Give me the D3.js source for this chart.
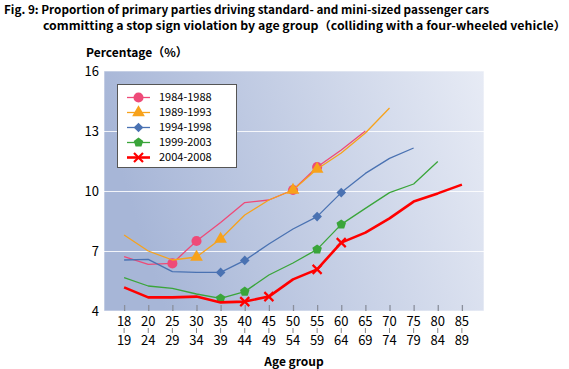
<!DOCTYPE html>
<html><head><meta charset="utf-8">
<script src="https://cdn.jsdelivr.net/npm/d3@7"></script>
<style>
html,body{margin:0;padding:0;background:#fff;}
svg{display:block;}
text{font-family:"Noto Sans CJK JP","Noto Sans",sans-serif;fill:#000;}
</style></head>
<body>
<svg id="chart" width="569" height="369"></svg>
<script>
const ageTop = ["18","20","25","30","35","40","45","50","55","60","65","70","75","80","85"];
const ageBottom = ["19","24","29","34","39","44","49","54","59","64","69","74","79","84","89"];
const categories = ageTop.map((t,i)=>t+"-"+ageBottom[i]);
const yTicks = [4,7,10,13,16];
const seriesNames = ["1984-1988","1989-1993","1994-1998","1999-2003","2004-2008"];
const s1984 = [6.72, 6.33, 6.38, 7.5, 8.42, 9.42, 9.55, 10.05, 11.2, 12.05, 13.0];
const s1989 = [7.8, 7.0, 6.55, 6.7, 7.6, 8.8, 9.55, 10.05, 11.1, 11.9, 12.9, 14.15];
const s1994 = [6.55, 6.58, 5.97, 5.93, 5.93, 6.53, 7.35, 8.1, 8.72, 9.92, 10.88, 11.63, 12.15];
const s1999 = [5.67, 5.25, 5.13, 4.85, 4.63, 4.97, 5.8, 6.4, 7.08, 8.33, 9.13, 9.92, 10.35, 11.47];
const s2004 = [5.18, 4.68, 4.68, 4.72, 4.43, 4.47, 4.72, 5.58, 6.08, 7.42, 7.92, 8.63, 9.47, 9.88, 10.32];
// age groups that carry a marker, per series
const mark1984 = ["25-29","30-34","50-54","55-59"];
const mark1989 = ["30-34","35-39","50-54","55-59"];
const mark1994 = ["35-39","40-44","55-59","60-64"];
const mark1999 = ["35-39","40-44","55-59","60-64"];
const mark2004 = ["40-44","45-49","55-59","60-64"];

const styles = [
  {color:"#ee4a78", width:1.3, symbol:d3.symbolCircle, size:80},
  {color:"#f7a21b", width:1.3, symbol:d3.symbolTriangle, size:70},
  {color:"#4a72b2", width:1.3, symbol:"diamond", size:4.8},
  {color:"#3aa53a", width:1.3, symbol:"pentagon", size:5},
  {color:"#ff0000", width:2.6, symbol:"x", size:5}
];
const seriesData = [s1984,s1989,s1994,s1999,s2004];
const markData = [mark1984,mark1989,mark1994,mark1999,mark2004];

const svg = d3.select("#chart");
const plot = {left:104, top:71, right:484, bottom:311};

const x = d3.scalePoint().domain(categories).range([plot.left-1, plot.right-1]).padding(0.875);
const y = d3.scaleLinear().domain([4,16]).range([plot.bottom, plot.top]);

// gradient background
const defs = svg.append("defs");
const grad = defs.append("linearGradient").attr("id","bg").attr("x1","0").attr("y1","0.2").attr("x2","1").attr("y2","0");
grad.append("stop").attr("offset","0").attr("stop-color","rgb(167,182,215)");
grad.append("stop").attr("offset","1").attr("stop-color","rgb(231,235,245)");

svg.append("rect").attr("x",plot.left).attr("y",plot.top)
  .attr("width",plot.right-plot.left).attr("height",plot.bottom-plot.top)
  .attr("fill","url(#bg)").attr("stroke","rgba(255,255,255,0.6)").attr("stroke-width",1);

// gridlines
svg.append("g").selectAll("line").data(yTicks.filter(v=>v>4 && v<16)).join("line")
  .attr("x1",plot.left).attr("x2",plot.right)
  .attr("y1",d=>Math.round(y(d))+0.5).attr("y2",d=>Math.round(y(d))+0.5)
  .attr("stroke","rgba(255,255,255,0.85)").attr("stroke-width",1);

// y axis labels
const yAxis = d3.axisLeft(y).tickValues(yTicks).tickSize(0).tickPadding(5).tickFormat(d3.format("d"));
const gy = svg.append("g").attr("transform",`translate(${plot.left},0)`).call(yAxis);
gy.select(".domain").remove();
gy.selectAll("text").attr("font-size","13px").attr("font-family",'"Noto Sans CJK JP",sans-serif').attr("fill","#000");

// x ticks inside bottom
const xAxis = d3.axisBottom(x).tickSizeInner(-6).tickSizeOuter(0).tickFormat("");
const gx = svg.append("g").attr("transform",`translate(0,${plot.bottom})`).call(xAxis);
gx.select(".domain").remove();
gx.selectAll(".tick line").attr("stroke","#8a8f9c").attr("stroke-width",1.3);

// x labels two rows with separator
const xl = svg.append("g");
categories.forEach((c,i)=>{
  const px = x(c);
  xl.append("text").attr("x",px).attr("y",326).attr("text-anchor","middle").attr("font-size","13px").text(ageTop[i]);
  xl.append("line").attr("x1",px).attr("x2",px).attr("y1",328).attr("y2",333).attr("stroke","#888").attr("stroke-width",1);
  xl.append("text").attr("x",px).attr("y",345).attr("text-anchor","middle").attr("font-size","13px").text(ageBottom[i]);
});

// lines
const line = d3.line().x((d,i)=>x(categories[i])).y(d=>y(d));
function drawMarker(g, st, cx, cy){
  if (st.symbol==="pentagon"){
    const r = st.size;
    const pts = d3.range(5).map(k=>{const a=-Math.PI/2+k*2*Math.PI/5; return [cx+r*Math.cos(a), cy+r*Math.sin(a)];});
    g.append("polygon").attr("points",pts.map(p=>p.join(",")).join(" ")).attr("fill",st.color);
  } else if (st.symbol==="diamond"){
    const r = st.size;
    g.append("path").attr("d",`M${cx},${cy-r}L${cx+r},${cy}L${cx},${cy+r}L${cx-r},${cy}Z`).attr("fill",st.color);
  } else if (st.symbol==="x"){
    const r = st.size-0.5;
    g.append("path").attr("d",`M${cx-r},${cy-r}L${cx+r},${cy+r}M${cx-r},${cy+r}L${cx+r},${cy-r}`)
      .attr("stroke",st.color).attr("stroke-width",2.2).attr("fill","none");
  } else {
    g.append("path").attr("d",d3.symbol().type(st.symbol).size(st.size)())
      .attr("transform",`translate(${cx},${cy})`).attr("fill",st.color);
  }
}
seriesData.forEach((data,si)=>{
  const st = styles[si];
  const g = svg.append("g");
  g.append("path").datum(data).attr("d",line).attr("fill","none")
    .attr("stroke",st.color).attr("stroke-width",st.width).attr("stroke-linejoin","round");
  data.forEach((v,i)=>{
    if (markData[si].includes(categories[i])) drawMarker(g, st, x(categories[i]), y(v));
  });
});

// legend
const lg = svg.append("g");
lg.append("rect").attr("x",117.5).attr("y",84.5).attr("width",119).attr("height",83)
  .attr("fill","#fff").attr("stroke","#555").attr("stroke-width",1);
seriesNames.forEach((n,i)=>{
  const cy = 97.5 + i*15;
  const st = styles[i];
  lg.append("line").attr("x1",127).attr("x2",150).attr("y1",cy).attr("y2",cy)
    .attr("stroke",st.color).attr("stroke-width",st.width);
  drawMarker(lg, st, 138.5, cy);
  lg.append("text").attr("x",159).attr("y",cy).attr("dy","0.36em")
    .attr("font-family",'"DejaVu Sans",sans-serif').attr("font-size","11px").text(n);
});

// titles
svg.append("text").attr("x",4).attr("y",13.5).attr("font-size","11.5px").attr("font-weight","bold")
  .attr("textLength",485).attr("lengthAdjust","spacingAndGlyphs")
  .text("Fig. 9: Proportion of primary parties driving standard- and mini-sized passenger cars");
svg.append("text").attr("x",43).attr("y",30.3).attr("font-size","11.5px").attr("font-weight","bold")
  .attr("textLength",523).attr("lengthAdjust","spacingAndGlyphs")
  .text("committing a stop sign violation by age group（colliding with a four-wheeled vehicle）");
svg.append("text").attr("x",86).attr("y",57).attr("font-size","12px").attr("font-weight","bold")
  .text("Percentage（%）");
svg.append("text").attr("x",(plot.left+plot.right)/2).attr("y",366).attr("text-anchor","middle")
  .attr("font-size","12px").attr("font-weight","bold").text("Age group");
</script>
</body></html>
